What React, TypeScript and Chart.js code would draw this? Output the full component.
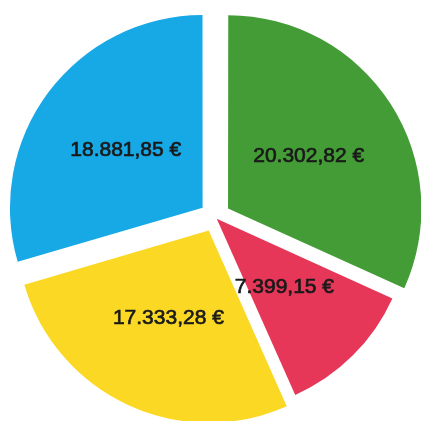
import React, { useEffect, useRef } from "react";
import { Chart, registerables } from "chart.js";

Chart.register(...registerables);

const categories = ["Grün", "Rot", "Gelb", "Blau"];
const values = [20302.82, 7399.15, 17333.28, 18881.85];
const colors = ["#449c36", "#e63758", "#fbd823", "#17a8e6"];
const offsets = [62, 10, 60, 62];

function formatEuro(v: number): string {
  const fixed = v.toFixed(2);
  const [intPart, dec] = fixed.split(".");
  const withDots = intPart.replace(/\B(?=(\d{3})+(?!\d))/g, ".");
  return `${withDots},${dec} €`;
}

const RADIUS = 192;

const labelPlugin = {
  id: "sliceLabels",
  afterDatasetsDraw(chart: any) {
    const ctx = chart.ctx;
    const meta = chart.getDatasetMeta(0);
    ctx.save();
    ctx.font = '21px "Liberation Sans", Arial, sans-serif';
    ctx.fillStyle = "#1a1a1a";
    ctx.strokeStyle = "#1a1a1a";
    ctx.lineWidth = 0.7;
    ctx.textAlign = "center";
    ctx.textBaseline = "middle";
    meta.data.forEach((arc: any, i: number) => {
      const { x, y, startAngle, endAngle, outerRadius } = arc.getProps(
        ["x", "y", "startAngle", "endAngle", "outerRadius"],
        true
      );
      const mid = (startAngle + endAngle) / 2;
      const r = outerRadius / 2 + offsets[i] / 4;
      const tx = x + Math.cos(mid) * r;
      const ty = y + Math.sin(mid) * r;
      const text = formatEuro(values[i]);
      ctx.fillText(text, tx, ty);
      ctx.strokeText(text, tx, ty);
    });
    ctx.restore();
  },
};

export default function App() {
  const ref = useRef<HTMLCanvasElement | null>(null);
  useEffect(() => {
    if (!ref.current) return;
    const chart = new Chart(ref.current, {
      type: "pie",
      data: {
        labels: categories,
        datasets: [
          {
            data: values,
            backgroundColor: colors,
            borderWidth: 0,
            offset: offsets,
            radius: RADIUS,
          } as any,
        ],
      },
      options: {
        animation: false,
        responsive: true,
        maintainAspectRatio: false,
        layout: { padding: { left: 9, top: 13, right: 0, bottom: 0 } },
        plugins: {
          legend: { display: false },
          tooltip: { enabled: false },
        },
      },
      plugins: [labelPlugin],
    });
    return () => chart.destroy();
  }, []);
  return (
    <div
      style={{
        position: "fixed",
        left: 0,
        top: 0,
        width: 421,
        height: 421,
        background: "#ffffff",
      }}
    >
      <canvas ref={ref} />
    </div>
  );
}
